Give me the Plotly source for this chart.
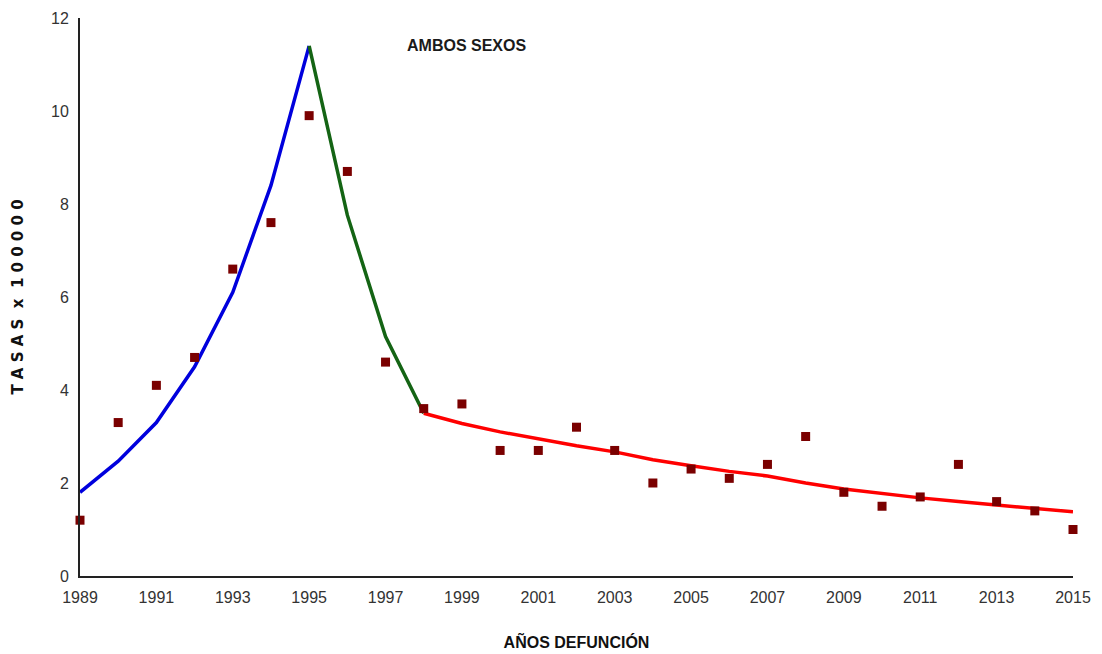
import plotly.graph_objects as go

years = list(range(1989, 2016))
observed = [1.2, 3.3, 4.1, 4.7, 6.6, 7.6, 9.9, 8.7, 4.6, 3.6, 3.7, 2.7, 2.7, 3.2,
            2.7, 2.0, 2.3, 2.1, 2.4, 3.0, 1.8, 1.5, 1.7, 2.4, 1.6, 1.4, 1.0]

rise_years = list(range(1989, 1996))
rise_vals = [1.8, 2.47, 3.3, 4.5, 6.1, 8.4, 11.4]

fall_years = list(range(1995, 1999))
fall_vals = [11.4, 7.76, 5.15, 3.5]

trend_years = list(range(1998, 2016))
trend_vals = [3.5, 3.28, 3.1, 2.95, 2.8, 2.67, 2.5, 2.37, 2.25, 2.15, 2.0, 1.87,
              1.77, 1.68, 1.6, 1.53, 1.45, 1.38]

x_ticks = list(range(1989, 2016, 2))
y_ticks = [0, 2, 4, 6, 8, 10, 12]

fig = go.Figure()
fig.add_trace(go.Scatter(x=rise_years, y=rise_vals, mode="lines",
                         line=dict(color="#0000dd", width=3.5), cliponaxis=False))
fig.add_trace(go.Scatter(x=fall_years, y=fall_vals, mode="lines",
                         line=dict(color="#146414", width=3.5), cliponaxis=False))
fig.add_trace(go.Scatter(x=trend_years, y=trend_vals, mode="lines",
                         line=dict(color="#ff0000", width=3.5), cliponaxis=False))
fig.add_trace(go.Scatter(x=years, y=observed, mode="markers",
                         marker=dict(symbol="square", size=9, color="#7a0000"),
                         cliponaxis=False))

fig.update_layout(
    width=1102, height=654,
    margin=dict(l=72, r=37, t=10, b=86),
    plot_bgcolor="white", paper_bgcolor="white",
    showlegend=False,
    font=dict(family="Liberation Sans, Arial", size=16, color="#333333"),
    annotations=[dict(text="<b>AMBOS SEXOS</b>", x=0.389, y=0.969, xref="paper", yref="paper",
                      showarrow=False, font=dict(size=16, color="#1a1a1a",
                                                 family="Liberation Sans, Arial"))],
)
fig.update_xaxes(range=[1989, 2015], tickvals=x_ticks, ticktext=[str(v) for v in x_ticks],
                 automargin=False,
                 showgrid=False, zeroline=False, showline=True, linecolor="#222222",
                 linewidth=2, ticks="", ticklabelstandoff=6,
                 title=dict(text="<b>AÑOS DEFUNCIÓN</b>", standoff=32,
                            font=dict(size=16, color="#111111",
                                      family="Liberation Sans, Arial")))
fig.update_yaxes(range=[0, 12], tickvals=y_ticks, showgrid=False, zeroline=False,
                 automargin=False,
                 showline=True, linecolor="#222222", linewidth=2, ticks="",
                 ticklabelstandoff=6,
                 title=dict(text="<b>T A S A S  x  1 0 0 0 0 0</b>", standoff=24,
                            font=dict(size=15, color="#111111",
                                      family="DejaVu Sans, Arial")))

fig.write_html("out.html")
